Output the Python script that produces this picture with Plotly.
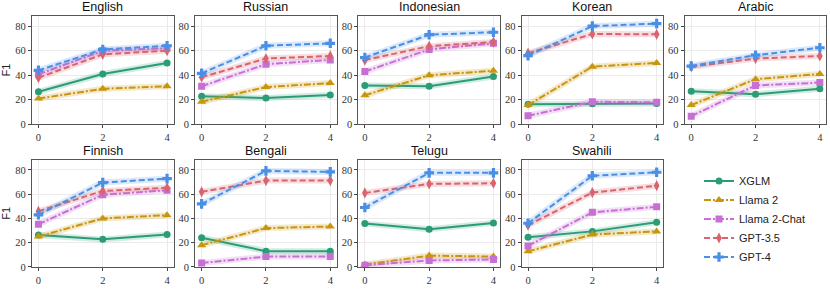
import plotly.graph_objects as go

shots = [0, 2, 4]
languages = ["English", "Russian", "Indonesian", "Korean", "Arabic",
             "Finnish", "Bengali", "Telugu", "Swahili"]
models = ["XGLM", "Llama 2", "Llama 2-Chat", "GPT-3.5", "GPT-4"]

xglm = {
    "English": [26.5, 41, 50], "Russian": [23, 21.5, 24], "Indonesian": [31.7, 31, 39],
    "Korean": [16.3, 16.8, 17], "Arabic": [27, 24.5, 29], "Finnish": [26.4, 22.7, 26.7],
    "Bengali": [24, 13, 13], "Telugu": [35.7, 31, 36.3], "Swahili": [24.5, 29.3, 36.8],
}
llama2 = {
    "English": [21, 29, 31], "Russian": [18.4, 30.4, 33.6], "Indonesian": [23.7, 40, 43.7],
    "Korean": [15.7, 47, 50], "Arabic": [15.7, 36.8, 41], "Finnish": [25, 40, 42.7],
    "Bengali": [17.9, 32, 33.3], "Telugu": [2, 9.3, 8.5], "Swahili": [12.8, 26.7, 29.3],
}
llama2_chat = {
    "English": [40.8, 60, 62], "Russian": [31, 49, 52.5], "Indonesian": [43, 61, 66],
    "Korean": [7, 18.4, 18], "Arabic": [6.7, 31.7, 34], "Finnish": [35.2, 59.5, 63.2],
    "Bengali": [3.2, 8.5, 8.5], "Telugu": [1.3, 5.3, 6.1], "Swahili": [17.3, 45, 49.6],
}
gpt35 = {
    "English": [38, 57, 60], "Russian": [38.4, 53.6, 55.7], "Indonesian": [52.3, 63.7, 67],
    "Korean": [58, 73.6, 73.3], "Arabic": [47, 53.6, 55.7], "Finnish": [45.9, 62.7, 65.3],
    "Bengali": [61.9, 71.2, 71.2], "Telugu": [61, 68.5, 69], "Swahili": [34.4, 61.3, 67],
}
gpt4 = {
    "English": [44, 61, 64], "Russian": [41.6, 64, 66], "Indonesian": [54.4, 73, 75],
    "Korean": [56, 80, 82], "Arabic": [47.5, 56.3, 62.4], "Finnish": [43, 69.6, 72.8],
    "Bengali": [52, 79.2, 78.4], "Telugu": [49, 77.6, 77.6], "Swahili": [36, 75.2, 78.1],
}
series = [xglm, llama2, llama2_chat, gpt35, gpt4]

colors = ["#2a9d74", "#c8960c", "#c86fd6", "#d9636f", "#4a8fe6"]
bands = ["rgba(42,157,116,0.2)", "rgba(200,150,12,0.22)", "rgba(200,111,214,0.22)",
         "rgba(217,99,111,0.22)", "rgba(74,143,230,0.2)"]
dashes = ["solid", "7px,2px,2px,2px", "7px,2px,2px,2px", "6px,3px", "6px,3px"]
symbols = ["circle", "triangle-up", "square", "diamond-tall", "cross"]
msizes = [7, 8, 7, 8, 8]

W, H = 830, 291
lefts = [32 + 163.2 * i for i in range(5)]
pw = 141.5
rows_px = [(16, 127), (163, 272.5)]
serif = "Liberation Serif, DejaVu Serif, serif"

fig = go.Figure()
layout = {}
for k, lang in enumerate(languages):
    r, c = divmod(k, 5)
    idx = k + 1
    xa = "xaxis" if idx == 1 else f"xaxis{idx}"
    ya = "yaxis" if idx == 1 else f"yaxis{idx}"
    xr = "x" if idx == 1 else f"x{idx}"
    yr = "y" if idx == 1 else f"y{idx}"
    x0 = lefts[c] / W
    x1 = (lefts[c] + pw) / W
    top, bot = rows_px[r]
    layout[xa] = dict(domain=[x0, x1], anchor=yr, range=[-0.2, 4.2],
                      tickvals=[0, 2, 4], ticks="outside", ticklen=3, tickcolor="#444",
                      showgrid=True, gridcolor="#ebebeb", gridwidth=1, zeroline=False,
                      showline=True, linecolor="#555", linewidth=1.2, mirror=True,
                      tickfont=dict(family=serif, size=10.5, color="#333"))
    layout[ya] = dict(domain=[1 - bot / H, 1 - top / H], anchor=xr, range=[0, 88.5],
                      tickvals=[0, 20, 40, 60, 80], ticks="outside", ticklen=3, tickcolor="#444",
                      showgrid=True, gridcolor="#ebebeb", gridwidth=1, zeroline=False,
                      showline=True, linecolor="#555", linewidth=1.2, mirror=True,
                      tickfont=dict(family=serif, size=10.5, color="#333"))
    if c == 0:
        layout[ya]["title"] = dict(text="F1", standoff=5,
                                   font=dict(family="Liberation Sans", size=11, color="#222"))
    fig.add_annotation(text=lang, x=(x0 + x1) / 2, y=1 - (top - 8.5) / H, xref="paper", yref="paper",
                       showarrow=False, font=dict(family="Liberation Sans", size=12.5, color="#111"),
                       xanchor="center", yanchor="middle")
    for m, (name, data) in enumerate(zip(models, series)):
        fig.add_trace(go.Scatter(x=shots, y=data[lang], mode="lines", xaxis=xr, yaxis=yr,
                                 line=dict(color=bands[m], width=6), showlegend=False,
                                 hoverinfo="skip"))
        fig.add_trace(go.Scatter(x=shots, y=data[lang], mode="lines+markers", name=name,
                                 xaxis=xr, yaxis=yr, legendgroup=name, showlegend=(k == 0),
                                 line=dict(color=colors[m], width=2, dash=dashes[m]),
                                 marker=dict(symbol=symbols[m], size=msizes[m], color=colors[m],
                                             line=dict(width=0))))

fig.update_layout(**layout)
fig.update_layout(width=W, height=H, margin=dict(l=0, r=0, t=0, b=0),
                  plot_bgcolor="white", paper_bgcolor="white",
                  legend=dict(x=699 / W, y=1 - 170 / H, xanchor="left", yanchor="top",
                              font=dict(family="Liberation Sans", size=11, color="#222"),
                              itemwidth=30, tracegroupgap=0, bgcolor="rgba(0,0,0,0)"))
fig.write_html("out.html", config={"displayModeBar": False},
               post_script="document.body.style.margin='0px';document.body.style.overflow='hidden';")
